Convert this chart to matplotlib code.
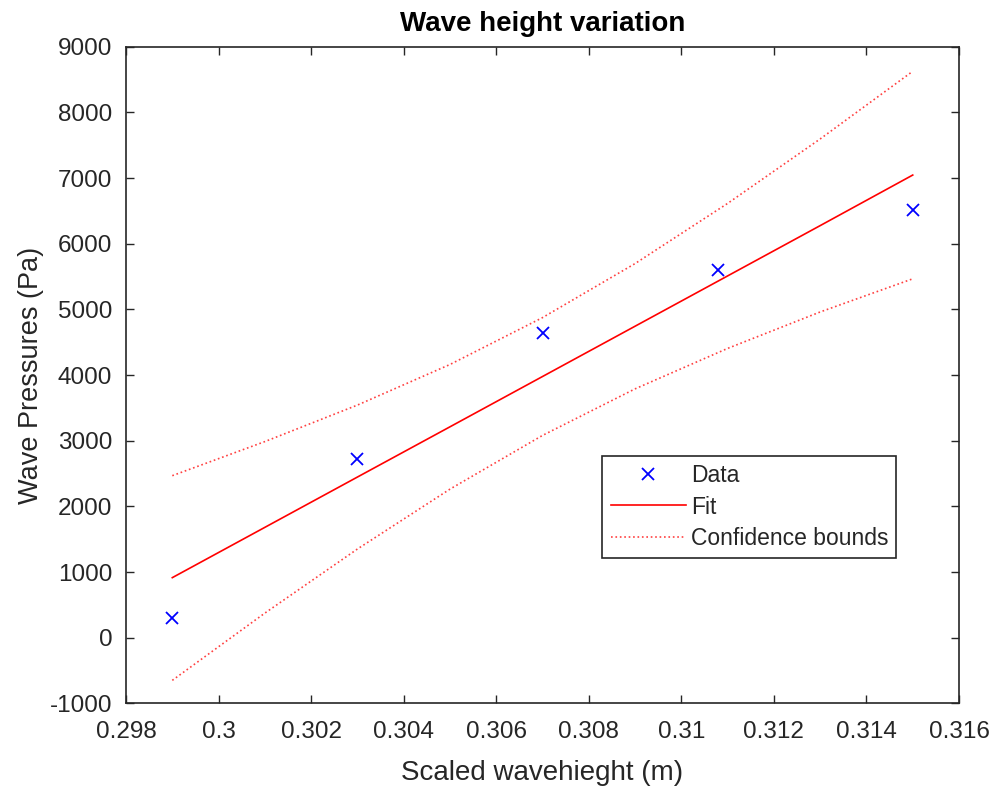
import numpy as np
import matplotlib.pyplot as plt

plt.rcParams['font.family'] = ['Liberation Sans', 'DejaVu Sans']
plt.rcParams['axes.unicode_minus'] = False

# measured points
wave_h = [0.299, 0.303, 0.307, 0.3108, 0.315]
pressure = [300, 2720, 4640, 5600, 6510]

# fit line and confidence bounds
fit_x = [0.299, 0.301, 0.303, 0.305, 0.307, 0.309, 0.311, 0.313, 0.315]
fit_y = [914, 1680, 2446, 3211, 3977, 4743, 5509, 6275, 7045]
upper = [2467, 2986, 3542, 4160, 4874, 5697, 6613, 7595, 8625]
lower = [-650, 374, 1350, 2262, 3080, 3789, 4405, 4960, 5465]

gray = '#262626'

fig = plt.figure(figsize=(9.97, 7.87), dpi=100)
ax = fig.add_axes([0.1264, 0.1063, 0.8355, 0.8344])

ax.plot(wave_h, pressure, 'x', color='#0000ff', markersize=9, markeredgewidth=1.3, label='Data')
ax.plot(fit_x, fit_y, '-', color='#ff0000', linewidth=1.2, label='Fit')
ax.plot(fit_x, upper, ':', color='#ff4040', linewidth=1.2, label='Confidence bounds')
ax.plot(fit_x, lower, ':', color='#ff4040', linewidth=1.2)

ax.set_xlim(0.298, 0.316)
ax.set_ylim(-1000, 9000)
ax.set_xticks(np.arange(0.298, 0.3161, 0.002))
ax.set_xticklabels(['0.298', '0.3', '0.302', '0.304', '0.306', '0.308', '0.31', '0.312', '0.314', '0.316'])
ax.set_yticks(np.arange(-1000, 9001, 1000))

ax.tick_params(direction='in', top=True, right=True, length=6, width=1, colors=gray,
               labelsize=17.5)
ax.tick_params(axis='x', pad=13)
ax.tick_params(axis='y', pad=10)
for s in ax.spines.values():
    s.set_color(gray)
    s.set_linewidth(1.2)

ax.set_xlabel('Scaled wavehieght (m)', fontsize=20, color=gray, labelpad=12)
ax.set_ylabel('Wave Pressures (Pa)', fontsize=19.5, color=gray, labelpad=4)
ax.set_title('Wave height variation', fontsize=20, fontweight='bold', pad=11)

leg = ax.legend(loc='lower left', bbox_to_anchor=(0.572, 0.222), fontsize=16.5,
                fancybox=False, edgecolor=gray, framealpha=1, handlelength=3.3,
                borderpad=0.35, labelspacing=0.35, handletextpad=0.2, borderaxespad=0)
leg.get_frame().set_linewidth(1.2)
for t in leg.get_texts():
    t.set_color(gray)

fig.savefig('out.png', dpi=100)
